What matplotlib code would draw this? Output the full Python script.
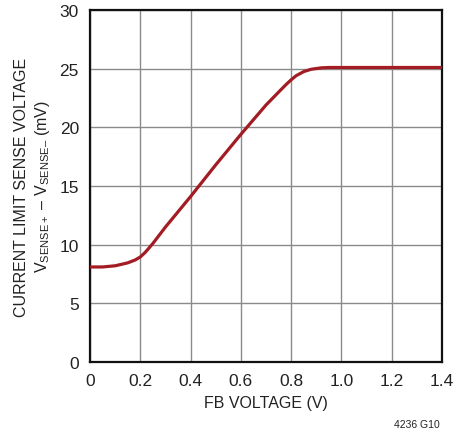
import matplotlib
matplotlib.use("Agg")
import matplotlib.pyplot as plt
from matplotlib import font_manager

# FB voltage (V) vs current limit sense voltage (mV)
fb_voltage = [0.0, 0.05, 0.10, 0.15, 0.18, 0.20, 0.22, 0.25, 0.30, 0.40, 0.50,
              0.60, 0.70, 0.75, 0.78, 0.80, 0.82, 0.85, 0.88, 0.92, 0.95,
              1.00, 1.20, 1.40]
sense_mv = [8.1, 8.1, 8.2, 8.45, 8.7, 8.95, 9.35, 10.1, 11.5, 14.1, 16.8,
            19.4, 21.9, 23.0, 23.65, 24.05, 24.4, 24.75, 24.95, 25.07, 25.1,
            25.1, 25.1, 25.1]

x_ticks = [0, 0.2, 0.4, 0.6, 0.8, 1.0, 1.2, 1.4]
x_tick_labels = ["0", "0.2", "0.4", "0.6", "0.8", "1.0", "1.2", "1.4"]
y_ticks = [0, 5, 10, 15, 20, 25, 30]

names = {f.name for f in font_manager.fontManager.ttflist}
base = "Liberation Sans Narrow" if "Liberation Sans Narrow" in names else "Liberation Sans"
plt.rcParams["font.family"] = [base, "DejaVu Sans"]
plt.rcParams["mathtext.fontset"] = "custom"
plt.rcParams["mathtext.rm"] = base
plt.rcParams["mathtext.it"] = base

fig = plt.figure(figsize=(4.53, 4.35), dpi=100)
ax = fig.add_axes([90 / 453, 1 - 363 / 435, 352 / 453, 352 / 435])

ax.plot(fb_voltage, sense_mv, color="#a31b23", lw=2.3, solid_capstyle="round",
        solid_joinstyle="round", zorder=3)

ax.set_xlim(0, 1.4)
ax.set_ylim(0, 30)
ax.set_xticks(x_ticks)
ax.set_xticklabels(x_tick_labels)
ax.set_yticks(y_ticks)
ax.tick_params(length=0, labelsize=12.5, pad=8, colors="#222222")
ax.grid(True, color="#8a8a8a", lw=1.0)
ax.set_axisbelow(True)
for s in ax.spines.values():
    s.set_color("#111111")
    s.set_linewidth(1.6)

ax.set_xlabel("FB VOLTAGE (V)", fontsize=11.5, color="#222222", labelpad=5)
ax.set_ylabel("CURRENT LIMIT SENSE VOLTAGE\n"
              r"V$_{\mathregular{SENSE+}}$ – V$_{\mathregular{SENSE–}}$ (mV)",
              fontsize=11.5, color="#222222", labelpad=5, linespacing=1.35)

fig.text(440 / 453, 1 - 425 / 435, "4236 G10", fontsize=7.5, ha="right",
         va="center", color="#222222")

fig.savefig("out.png", dpi=100)
